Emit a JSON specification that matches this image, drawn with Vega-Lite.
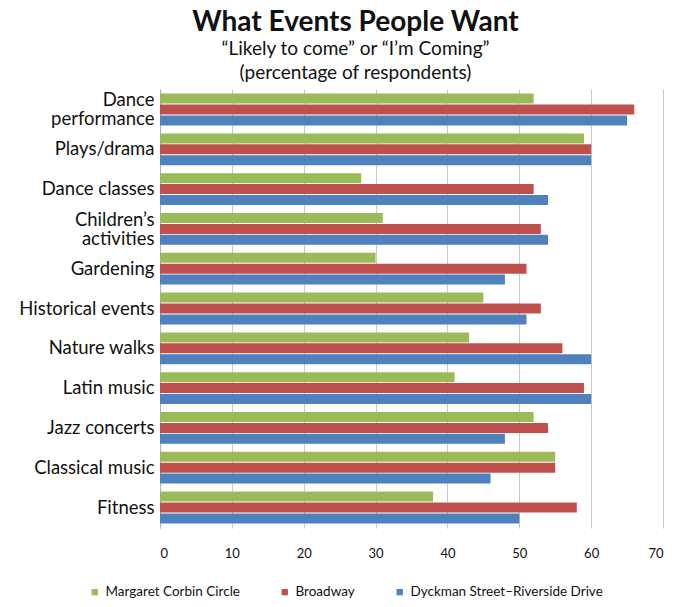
{
  "$schema": "https://vega.github.io/schema/vega-lite/v6.json",
  "width": 503,
  "height": 439,
  "autosize": {"type": "none"},
  "padding": {"left": 160, "top": 89, "right": 23, "bottom": 79},
  "background": "white",
  "title": {
    "text": "What Events People Want",
    "subtitle": ["“Likely to come” or “I’m Coming”", "(percentage of respondents)"],
    "font": "Lato",
    "fontSize": 28,
    "fontWeight": "bold",
    "color": "#111111",
    "subtitleFont": "Lato",
    "subtitleFontSize": 19,
    "subtitleColor": "#111111",
    "subtitleLineHeight": 24,
    "subtitlePadding": 3,
    "anchor": "middle",
    "frame": "group",
    "dx": -56,
    "offset": 6
  },
  "data": {
    "values": [
      {"event": "Dance performance", "area": "Margaret Corbin Circle", "pct": 52},
      {"event": "Dance performance", "area": "Broadway", "pct": 66},
      {"event": "Dance performance", "area": "Dyckman Street–Riverside Drive", "pct": 65},
      {"event": "Plays/drama", "area": "Margaret Corbin Circle", "pct": 59},
      {"event": "Plays/drama", "area": "Broadway", "pct": 60},
      {"event": "Plays/drama", "area": "Dyckman Street–Riverside Drive", "pct": 60},
      {"event": "Dance classes", "area": "Margaret Corbin Circle", "pct": 28},
      {"event": "Dance classes", "area": "Broadway", "pct": 52},
      {"event": "Dance classes", "area": "Dyckman Street–Riverside Drive", "pct": 54},
      {"event": "Children’s activities", "area": "Margaret Corbin Circle", "pct": 31},
      {"event": "Children’s activities", "area": "Broadway", "pct": 53},
      {"event": "Children’s activities", "area": "Dyckman Street–Riverside Drive", "pct": 54},
      {"event": "Gardening", "area": "Margaret Corbin Circle", "pct": 30},
      {"event": "Gardening", "area": "Broadway", "pct": 51},
      {"event": "Gardening", "area": "Dyckman Street–Riverside Drive", "pct": 48},
      {"event": "Historical events", "area": "Margaret Corbin Circle", "pct": 45},
      {"event": "Historical events", "area": "Broadway", "pct": 53},
      {"event": "Historical events", "area": "Dyckman Street–Riverside Drive", "pct": 51},
      {"event": "Nature walks", "area": "Margaret Corbin Circle", "pct": 43},
      {"event": "Nature walks", "area": "Broadway", "pct": 56},
      {"event": "Nature walks", "area": "Dyckman Street–Riverside Drive", "pct": 60},
      {"event": "Latin music", "area": "Margaret Corbin Circle", "pct": 41},
      {"event": "Latin music", "area": "Broadway", "pct": 59},
      {"event": "Latin music", "area": "Dyckman Street–Riverside Drive", "pct": 60},
      {"event": "Jazz concerts", "area": "Margaret Corbin Circle", "pct": 52},
      {"event": "Jazz concerts", "area": "Broadway", "pct": 54},
      {"event": "Jazz concerts", "area": "Dyckman Street–Riverside Drive", "pct": 48},
      {"event": "Classical music", "area": "Margaret Corbin Circle", "pct": 55},
      {"event": "Classical music", "area": "Broadway", "pct": 55},
      {"event": "Classical music", "area": "Dyckman Street–Riverside Drive", "pct": 46},
      {"event": "Fitness", "area": "Margaret Corbin Circle", "pct": 38},
      {"event": "Fitness", "area": "Broadway", "pct": 58},
      {"event": "Fitness", "area": "Dyckman Street–Riverside Drive", "pct": 50}
    ]
  },
  "mark": {"type": "bar"},
  "encoding": {
    "y": {
      "field": "event",
      "type": "nominal",
      "sort": null,
      "scale": {"paddingInner": 0.2, "paddingOuter": 0.115},
      "axis": {
        "title": null,
        "ticks": false,
        "domain": true,
        "domainColor": "#b0b0b0",
        "labelFont": "Lato",
        "labelFontSize": 18.5,
        "labelColor": "#111111",
        "labelPadding": 6,
        "labelLimit": 200,
        "labelLineHeight": 19,
        "labelOffset": {"condition": {"test": "datum.value == 'Dance performance' || datum.value == 'Children’s activities'", "value": -9}, "value": 0},
        "labelExpr": "datum.value == 'Dance performance' ? ['Dance', 'performance'] : datum.value == 'Children’s activities' ? ['Children’s', 'activities'] : datum.value"
      }
    },
    "yOffset": {
      "field": "area",
      "type": "nominal",
      "sort": ["Margaret Corbin Circle", "Broadway", "Dyckman Street–Riverside Drive"],
      "scale": {"paddingInner": 0.08}
    },
    "x": {
      "field": "pct",
      "type": "quantitative",
      "scale": {"domain": [0, 70]},
      "axis": {
        "title": null,
        "values": [0, 10, 20, 30, 40, 50, 60, 70],
        "domain": false,
        "ticks": false,
        "grid": true,
        "gridColor": "#c8c8c8",
        "labelFont": "Lato",
        "labelFontSize": 13,
        "labelColor": "#111111",
        "labelPadding": 19
      }
    },
    "color": {
      "field": "area",
      "type": "nominal",
      "sort": ["Margaret Corbin Circle", "Broadway", "Dyckman Street–Riverside Drive"],
      "scale": {
        "domain": ["Margaret Corbin Circle", "Broadway", "Dyckman Street–Riverside Drive"],
        "range": ["#9BBB59", "#C0504D", "#4F81BD"]
      },
      "legend": {
        "title": null,
        "orient": "none",
        "direction": "horizontal",
        "legendX": -72,
        "legendY": 496,
        "symbolType": "square",
        "symbolSize": 40,
        "symbolStrokeWidth": 0,
        "labelFont": "Lato",
        "labelFontSize": 13.5,
        "labelColor": "#111111",
        "labelOffset": 4,
        "columnPadding": 38,
        "labelLimit": 300
      }
    }
  },
  "config": {"view": {"stroke": null}}
}
